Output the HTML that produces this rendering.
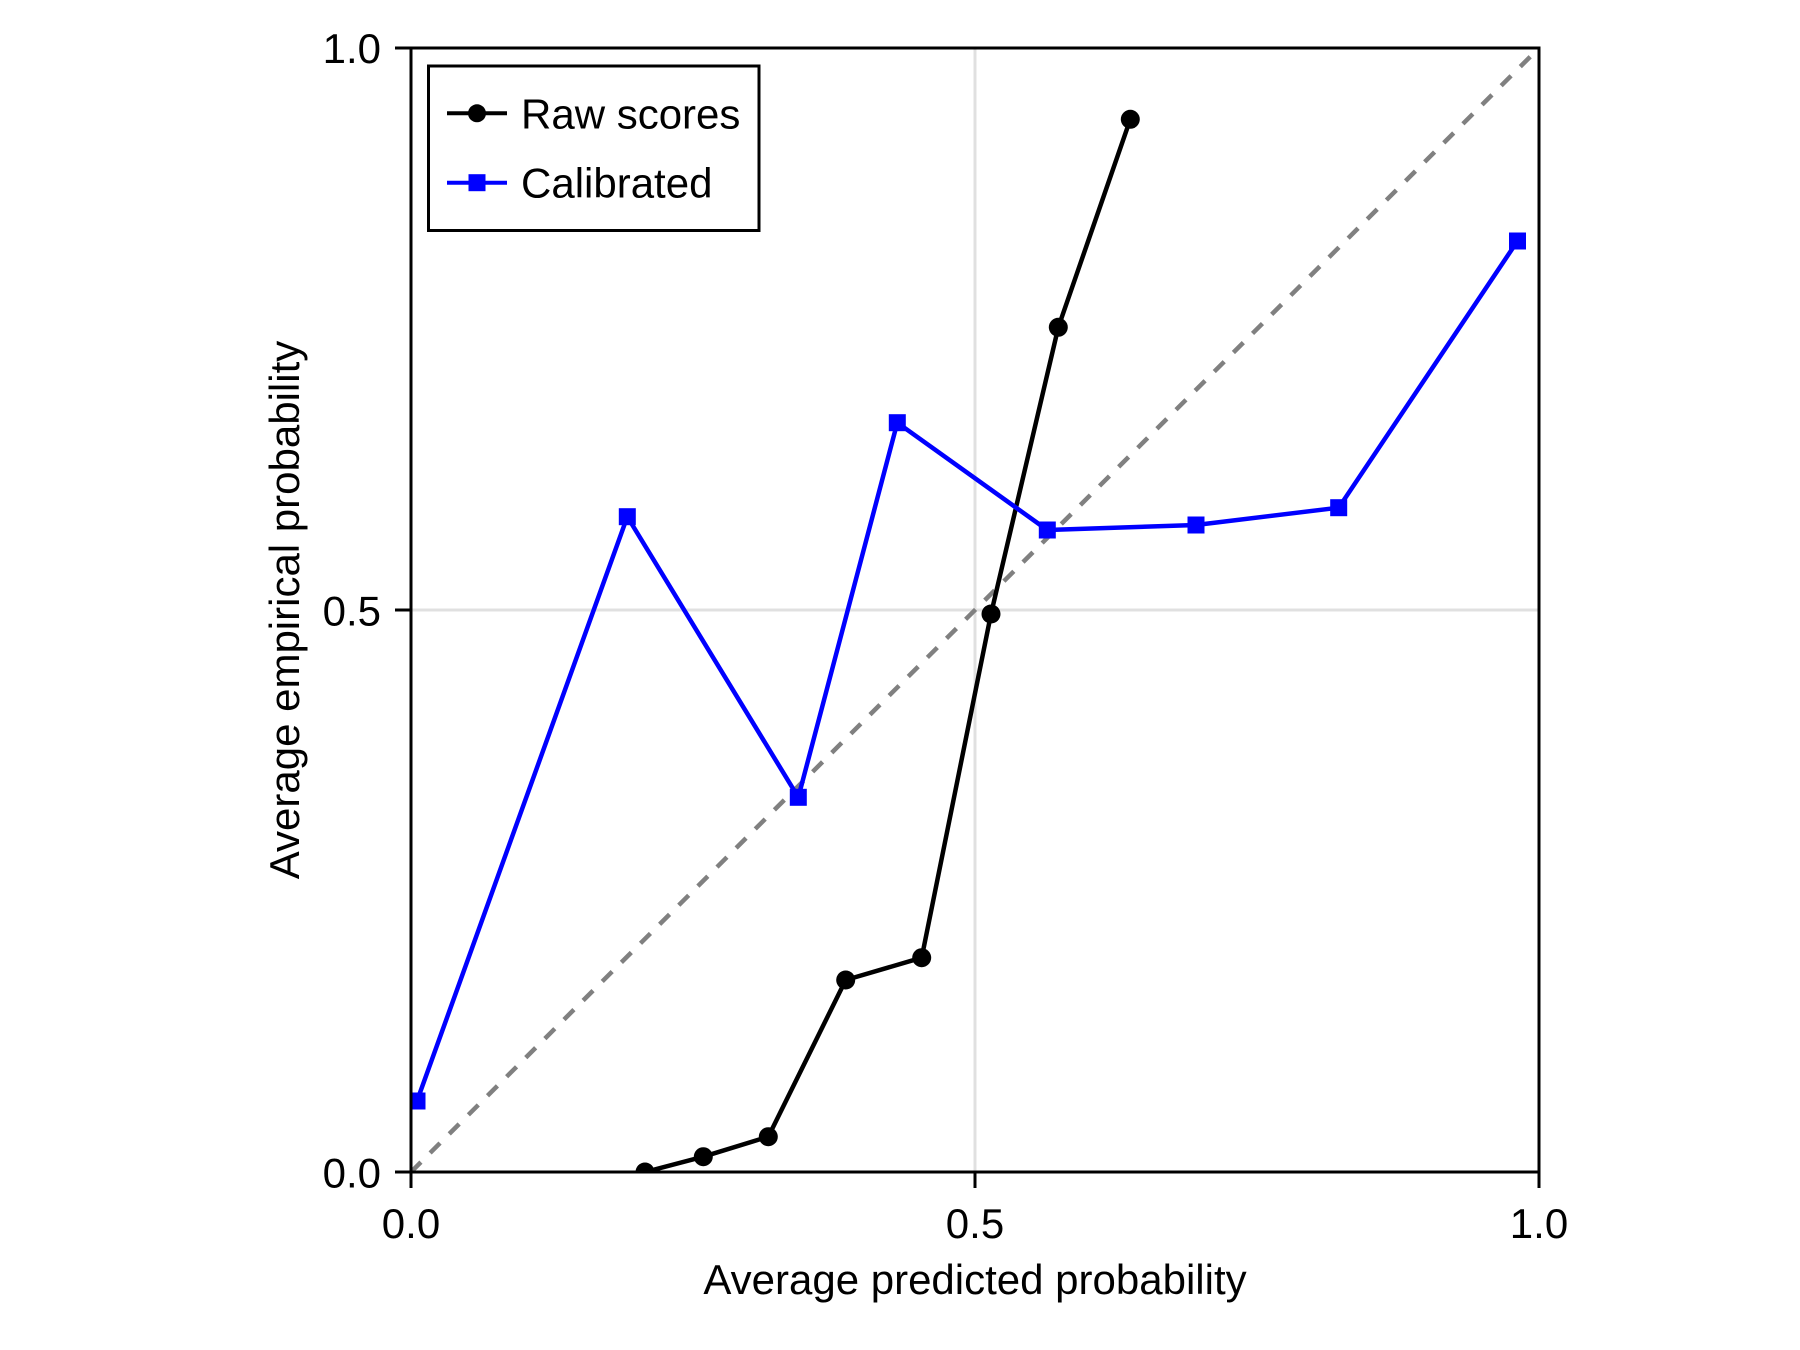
<!DOCTYPE html>
<html>
<head>
<meta charset="utf-8">
<style>
  html, body { margin: 0; padding: 0; background: #ffffff; }
  svg { display: block; }
  text { font-family: "Liberation Sans", "DejaVu Sans", sans-serif; fill: #000; }
</style>
</head>
<body>
<svg width="1800" height="1350" viewBox="0 0 1800 1350" xmlns="http://www.w3.org/2000/svg">
  <rect x="0" y="0" width="1800" height="1350" fill="#ffffff"/>
  <defs>
    <clipPath id="plotclip">
      <rect x="411" y="48" width="1128" height="1124"/>
    </clipPath>
  </defs>

  <!-- grid lines -->
  <line x1="975" y1="48" x2="975" y2="1172" stroke="#e0e0e0" stroke-width="3"/>
  <line x1="411" y1="610" x2="1539" y2="610" stroke="#e0e0e0" stroke-width="3"/>

  <g clip-path="url(#plotclip)">
    <!-- diagonal reference -->
    <line x1="411" y1="1172" x2="1539" y2="48" stroke="#808080" stroke-width="4.5" stroke-dasharray="14 13"/>

    <!-- Raw scores -->
    <polyline fill="none" stroke="#000000" stroke-width="4.5" stroke-linejoin="round"
      points="645,1172 703.3,1156.7 768.3,1136.7 845.7,980 921.7,957.7 991,614 1058.3,327.3 1130.3,119.3"/>
    <g fill="#000000">
      <circle cx="645" cy="1172" r="9.5"/>
      <circle cx="703.3" cy="1156.7" r="9.5"/>
      <circle cx="768.3" cy="1136.7" r="9.5"/>
      <circle cx="845.7" cy="980" r="9.5"/>
      <circle cx="921.7" cy="957.7" r="9.5"/>
      <circle cx="991" cy="614" r="9.5"/>
      <circle cx="1058.3" cy="327.3" r="9.5"/>
      <circle cx="1130.3" cy="119.3" r="9.5"/>
    </g>

    <!-- Calibrated -->
    <polyline fill="none" stroke="#0000ff" stroke-width="4.5" stroke-linejoin="round"
      points="417,1101 627.3,516.7 798.3,797.3 897.3,422.7 1047.3,530 1196,525 1338.7,507.7 1517.5,241"/>
    <g fill="#0000ff">
      <rect x="408.5" y="1092.5" width="17" height="17"/>
      <rect x="618.8" y="508.2" width="17" height="17"/>
      <rect x="789.8" y="788.8" width="17" height="17"/>
      <rect x="888.8" y="414.2" width="17" height="17"/>
      <rect x="1038.8" y="521.5" width="17" height="17"/>
      <rect x="1187.5" y="516.5" width="17" height="17"/>
      <rect x="1330.2" y="499.2" width="17" height="17"/>
      <rect x="1509" y="232.5" width="17" height="17"/>
    </g>
  </g>

  <!-- spines -->
  <rect x="411" y="48" width="1128" height="1124" fill="none" stroke="#000000" stroke-width="3"/>

  <!-- ticks -->
  <g stroke="#000000" stroke-width="3">
    <line x1="395" y1="48" x2="411" y2="48"/>
    <line x1="395" y1="610" x2="411" y2="610"/>
    <line x1="395" y1="1172" x2="411" y2="1172"/>
    <line x1="411" y1="1172" x2="411" y2="1188"/>
    <line x1="975" y1="1172" x2="975" y2="1188"/>
    <line x1="1539" y1="1172" x2="1539" y2="1188"/>
  </g>

  <!-- tick labels -->
  <g font-size="42">
    <text x="381" y="63" text-anchor="end">1.0</text>
    <text x="381" y="625.5" text-anchor="end">0.5</text>
    <text x="381" y="1187.5" text-anchor="end">0.0</text>
    <text x="411" y="1238" text-anchor="middle">0.0</text>
    <text x="975" y="1238" text-anchor="middle">0.5</text>
    <text x="1539" y="1238" text-anchor="middle">1.0</text>
  </g>

  <!-- axis labels -->
  <text x="975" y="1294" text-anchor="middle" font-size="42">Average predicted probability</text>
  <text transform="translate(299,610) rotate(-90)" x="0" y="0" text-anchor="middle" font-size="42">Average empirical probability</text>

  <!-- legend -->
  <rect x="428.5" y="66" width="330.5" height="164.5" fill="#ffffff" stroke="#000000" stroke-width="3"/>
  <line x1="447" y1="113.3" x2="507" y2="113.3" stroke="#000000" stroke-width="4"/>
  <circle cx="477" cy="113.3" r="9" fill="#000000"/>
  <text x="521" y="128.3" font-size="42">Raw scores</text>
  <line x1="447" y1="182.7" x2="507" y2="182.7" stroke="#0000ff" stroke-width="4"/>
  <rect x="468.5" y="174.2" width="17" height="17" fill="#0000ff"/>
  <text x="521" y="197.7" font-size="42">Calibrated</text>
</svg>
</body>
</html>
